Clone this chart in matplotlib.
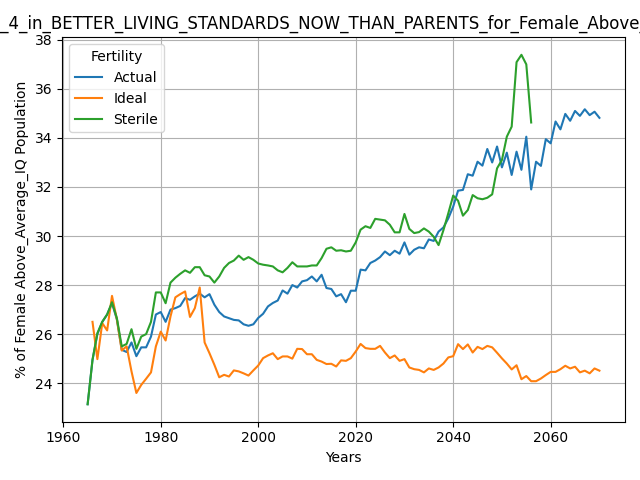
import numpy as np
import matplotlib
matplotlib.use("Agg")
import matplotlib.pyplot as plt

years_actual = list(range(1965, 2071))
years_ideal = list(range(1966, 2071))
years_sterile = list(range(1965, 2057))

actual = [
    23.14, 24.95, 26.0, 26.5, 26.8, 27.26, 26.6, 25.36, 25.27, 25.66,
    25.1, 25.46, 25.46, 25.9, 26.8, 26.9, 26.5, 27.0, 27.06, 27.15,
    27.47, 27.4, 27.54, 27.65, 27.5, 27.63, 27.2, 26.9, 26.72, 26.65,
    26.58, 26.56, 26.4, 26.34, 26.4, 26.66, 26.83, 27.13, 27.27, 27.37,
    27.78, 27.65, 28.0, 27.9, 28.15, 28.2, 28.35, 28.15, 28.42, 27.88,
    27.84, 27.54, 27.63, 27.3, 27.77, 27.77, 28.63, 28.6, 28.9, 29.0,
    29.14, 29.37, 29.22, 29.4, 29.28, 29.74, 29.24, 29.44, 29.54, 29.5,
    29.86, 29.8, 30.18, 30.35, 30.72, 31.2, 31.85, 31.88, 32.52, 32.46,
    33.03, 32.87, 33.55, 33.0, 33.65, 32.8, 33.4, 32.49, 33.44, 32.7,
    34.05, 31.9, 33.03, 32.86, 33.95, 33.78, 34.67, 34.35, 34.98, 34.7,
    35.1, 34.9, 35.17, 34.93, 35.07, 34.82,
]

ideal = [
    26.5, 24.98, 26.45, 26.15, 27.56, 26.6, 25.33, 25.5, 24.48,
    23.6, 23.93, 24.18, 24.44, 25.5, 26.1, 25.74, 26.72, 27.5, 27.63,
    27.74, 26.7, 27.06, 27.9, 25.66, 25.22, 24.75, 24.24, 24.34, 24.27,
    24.52, 24.48, 24.4, 24.31, 24.52, 24.72, 25.02, 25.13, 25.22, 24.98,
    25.09, 25.09, 25.0, 25.4, 25.39, 25.18, 25.18, 24.95, 24.88, 24.78,
    24.79, 24.68, 24.93, 24.91, 25.02, 25.29, 25.6, 25.43, 25.4, 25.4,
    25.52, 25.25, 25.02, 25.13, 24.91, 24.98, 24.64, 24.57, 24.54, 24.44,
    24.6, 24.54, 24.64, 24.8, 25.05, 25.1, 25.59, 25.39, 25.58, 25.25,
    25.48, 25.39, 25.52, 25.46, 25.24, 25.01, 24.8, 24.56, 24.73, 24.16,
    24.29, 24.08, 24.08, 24.19, 24.33, 24.46, 24.46, 24.57, 24.71, 24.6,
    24.67, 24.44, 24.51, 24.4, 24.6, 24.51,
]

sterile = [
    23.14, 24.95, 26.04, 26.5, 26.8, 27.3, 26.65, 25.5, 25.6, 26.2,
    25.4, 25.9, 26.0, 26.5, 27.7, 27.7, 27.26, 28.1, 28.3, 28.46,
    28.6, 28.5, 28.73, 28.73, 28.4, 28.35, 28.1, 28.35, 28.7, 28.9,
    29.0, 29.2, 29.03, 29.14, 29.03, 28.88, 28.83, 28.8, 28.76, 28.6,
    28.52, 28.7, 28.93, 28.76, 28.76, 28.76, 28.8, 28.8, 29.1, 29.48,
    29.54, 29.4, 29.42, 29.37, 29.4, 29.74, 30.26, 30.4, 30.33, 30.7,
    30.67, 30.64, 30.46, 30.15, 30.15, 30.9, 30.29, 30.12, 30.16, 30.31,
    30.18, 29.97, 29.63, 30.24, 30.93, 31.65, 31.44, 30.83, 31.06, 31.67,
    31.54, 31.5, 31.56, 31.7, 32.76, 33.1, 34.05, 34.46, 37.09, 37.39,
    37.0, 34.63,
]

fig, ax = plt.subplots(figsize=(6.4, 4.8), dpi=100)
ax.plot(years_actual, actual, label="Actual")
ax.plot(years_ideal, ideal, label="Ideal")
ax.plot(years_sterile, sterile, label="Sterile")
ax.set_xlabel("Years")
ax.set_ylabel("% of Female Above_Average_IQ Population")
ax.set_title("Q1004_4_in_BETTER_LIVING_STANDARDS_NOW_THAN_PARENTS_for_Female_Above_Average_IQ")
ax.grid(True)
ax.legend(title="Fertility", loc="upper left")
fig.tight_layout()
fig.savefig("out.png")
